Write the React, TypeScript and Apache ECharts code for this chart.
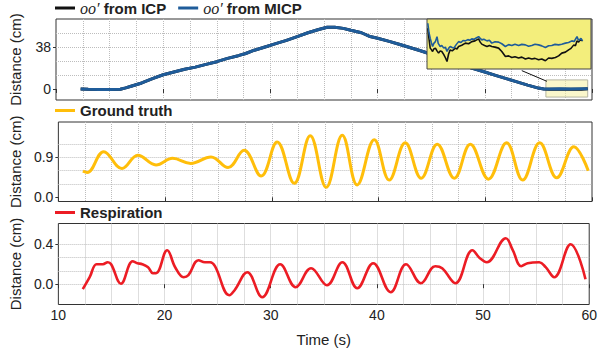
import React, { useEffect, useRef } from 'react';
import * as echarts from 'echarts';

// ---------- data ----------
const trackTime = [12.3, 13, 14, 15, 16, 16.5, 17, 18, 19, 20, 21, 22, 23, 24, 25, 26, 27, 27.7, 28.5, 29.5, 30.5, 31.5, 32.5, 33.5, 34.5, 35.3, 36, 36.8, 37.5, 38.5, 39.3, 40, 41, 42, 43, 44, 45, 46, 47, 48, 49, 50, 51, 52, 53, 54, 55, 55.5, 56, 57, 58, 59, 59.6];
const icpMain = [0, -0.3, -0.5, -0.5, -0.3, 1.0, 2.5, 5.5, 9.5, 13.0, 15.5, 18, 20, 22.5, 25, 28, 30.5, 32.5, 35.5, 38.5, 41.5, 44.5, 48, 51.5, 54.5, 56.5, 56.6, 55.5, 53.8, 51.5, 48, 46.5, 43.8, 41, 38, 35, 31.8, 28.5, 25, 21.5, 18.5, 15.5, 12.5, 9.5, 6.5, 3.5, 0.8, 0, -0.2, -0.3, -0.3, -0.2, 0.1];
const micpMain = [0, -0.3, -0.5, -0.5, -0.3, 1.0, 2.5, 5.5, 9.5, 13.0, 15.5, 18, 20, 22.5, 25, 28, 30.5, 32.5, 35.5, 38.5, 41.5, 44.5, 48, 51.5, 54.5, 56.5, 56.6, 55.5, 53.8, 51.5, 48, 46.5, 43.8, 41, 38, 35, 31.8, 28.5, 25, 21.5, 18.5, 15.5, 12.5, 9.5, 6.5, 3.5, 0.8, 0, -0.1, 0.1, -0.1, 0.1, 0.2];

// zoomed inset (t in s, distance in cm)
const insetMicpT = [55.72, 55.75, 55.78, 55.81, 55.84, 55.87, 55.91, 55.95, 55.98, 56.03, 56.07, 56.12, 56.16, 56.2, 56.24, 56.28, 56.33, 56.37, 56.43, 56.49, 56.55, 56.6, 56.66, 56.72, 56.77, 56.82, 56.88, 56.93, 56.99, 57.03, 57.07, 57.12, 57.2, 57.26, 57.32, 57.4, 57.49, 57.57, 57.66, 57.74, 57.82, 57.9, 57.99, 58.07, 58.16, 58.24, 58.32, 58.4, 58.49, 58.57, 58.66, 58.74, 58.82, 58.9, 58.99, 59.07, 59.16, 59.24, 59.32, 59.38, 59.45, 59.48, 59.51, 59.55, 59.59];
const insetMicpV = [1.66, 0.9, 0.46, 0.1, -0.2, 0.05, 0.19, 0.59, 0.05, -0.2, -0.12, -0.33, -0.25, -0.6, -0.35, -0.2, -0.28, -0.33, -0.05, 0.19, 0.12, 0.28, 0.25, 0.35, 0.3, 0.41, 0.38, 0.48, 0.59, 0.45, 0.33, 0.38, 0.25, 0.3, 0.07, 0.18, 0.15, 0.02, -0.2, -0.05, -0.12, -0.02, -0.12, -0.03, -0.07, -0.18, -0.12, -0.02, -0.07, -0.15, -0.28, -0.14, -0.12, -0.03, -0.07, -0.02, 0.07, 0.12, 0.25, 0.2, 0.59, 0.35, 0.33, 0.45, 0.25];
const insetIcpT = [55.72, 55.75, 55.78, 55.81, 55.84, 55.87, 55.91, 55.95, 55.99, 56.03, 56.07, 56.12, 56.16, 56.2, 56.24, 56.28, 56.33, 56.41, 56.45, 56.49, 56.57, 56.66, 56.74, 56.82, 56.9, 56.99, 57.03, 57.07, 57.14, 57.2, 57.26, 57.32, 57.4, 57.49, 57.57, 57.66, 57.74, 57.82, 57.9, 57.99, 58.07, 58.16, 58.24, 58.32, 58.4, 58.49, 58.57, 58.66, 58.74, 58.82, 58.91, 58.99, 59.07, 59.16, 59.24, 59.3, 59.37, 59.41, 59.45, 59.49, 59.53, 59.59];
const insetIcpV = [1.26, 0.4, -0.33, -0.45, -0.6, -0.4, -0.33, -0.55, -0.73, -0.55, -0.6, -0.85, -1.1, -1.4, -0.8, -0.47, -0.55, -0.33, -0.4, -0.2, -0.1, 0.07, 0.02, 0.19, 0.25, 0.41, 0.15, -0.01, -0.12, -0.2, -0.12, -0.2, -0.25, -0.33, -0.6, -1.0, -0.95, -1.08, -1.02, -1.12, -1.05, -1.2, -1.12, -1.2, -1.15, -1.26, -1.2, -1.34, -1.12, -1.15, -1.08, -0.95, -0.73, -0.65, -0.47, -0.35, -0.07, -0.15, 0.25, 0.15, 0.33, 0.25];

const truthT = [12.3, 12.7, 14.25, 15.95, 17.45, 19.15, 20.7, 22.4, 24.3, 25.9, 27.4, 29.0, 30.5, 32.1, 33.6, 35.1, 36.6, 38.0, 39.6, 41.0, 42.5, 44.0, 45.5, 47.1, 48.6, 50.3, 52.0, 53.5, 55.1, 56.7, 58.3, 59.65];
const truthV = [0.59, 0.56, 1.03, 0.65, 0.95, 0.73, 0.88, 0.765, 0.91, 0.67, 1.06, 0.48, 1.25, 0.315, 1.39, 0.225, 1.4, 0.28, 1.3, 0.39, 1.23, 0.43, 1.2, 0.43, 1.2, 0.41, 1.23, 0.39, 1.23, 0.44, 1.14, 0.6];

const respT = [12.3, 12.95, 13.6, 14.2, 14.65, 14.97, 15.9, 17.0, 17.45, 17.9, 18.45, 18.9, 19.2, 20.25, 21.0, 21.8, 22.25, 23.2, 23.8, 24.3, 24.75, 26.1, 26.6, 27.8, 29.2, 30.9, 32.35, 33.8, 35.3, 36.75, 38.15, 39.65, 41.3, 42.75, 44.15, 45.5, 46.15, 47.4, 49.0, 49.7, 50.35, 52.15, 52.8, 53.6, 54.2, 55.3, 55.9, 56.7, 58.25, 59.65];
const respV = [-0.05, 0.07, 0.2, 0.2, 0.22, 0.2, 0.005, 0.23, 0.21, 0.2, 0.17, 0.11, 0.11, 0.34, 0.17, 0.07, 0.09, 0.24, 0.22, 0.22, 0.18, -0.11, -0.06, 0.12, -0.13, 0.2, -0.03, 0.16, -0.01, 0.22, -0.04, 0.21, -0.08, 0.2, 0.01, 0.18, 0.16, 0.01, 0.34, 0.26, 0.22, 0.46, 0.34, 0.18, 0.21, 0.22, 0.17, 0.07, 0.4, 0.05];

// axis ticks
const timeLabels = [10, 20, 30, 40, 50, 60];
const distTicksTop = [0, 38];
const distGridTop = [0, 12.667, 25.333, 38, 50.667, 63.333];
const distTicksMid = [0, 0.9];
const distGridMid = [0, 0.3, 0.6, 0.9, 1.2, 1.5];
const distTicksBot = [0, 0.4];
const distGridBot = [-0.1333, 0, 0.1333, 0.2667, 0.4, 0.5333];
const zoomT = [55.7, 59.6];
const zoomV = [-7.4, 8.3];
const arrowFrom = [55.8, 7.0];
const arrowTo = [53.45, 16.8];

const pairs = (xs: number[], ys: number[]) => xs.map((x, i) => [x, ys[i]]);

const FONT = 'Liberation Sans, Arial, Helvetica, sans-serif';
const TXT = '#222';
const BLUE = '#1f5c9a';
const GOLD = '#ffbe0a';
const RED = '#ec1c24';

export default function App() {
  const ref = useRef<HTMLDivElement>(null);
  useEffect(() => {
    if (!ref.current) return;
    const chart = echarts.init(ref.current, null, { renderer: 'svg' });

    const frame = { show: true, borderColor: '#333', borderWidth: 1, backgroundColor: 'transparent' };
    const grids: any[] = [
      { left: 55, right: 8, top: 19, height: 81, ...frame },
      { left: 55, right: 8, top: 122, height: 79.5, ...frame },
      { left: 55, right: 8, top: 223.5, height: 81, ...frame },
      { left: 427, top: 19, width: 164, height: 50, show: true, backgroundColor: '#f3ee7c', borderColor: '#444', borderWidth: 1, z: 5 },
    ];

    const xAxes: any[] = [];
    const yAxes: any[] = [];
    const panels = [
      { min: -10.1, max: 64.1, ticks: distTicksTop, grid: distGridTop, dec: 0 },
      { min: -0.095, max: 1.7, ticks: distTicksMid, grid: distGridMid, dec: 1 },
      { min: -0.203, max: 0.607, ticks: distTicksBot, grid: distGridBot, dec: 1 },
    ];
    panels.forEach((p, g) => {
      const last = g === 2;
      xAxes.push({
        type: 'value', gridIndex: g, min: 10, max: 60,
        axisLine: { show: false },
        axisTick: { show: true, customValues: timeLabels, length: 4, lineStyle: { color: '#333' } },
        axisLabel: { show: last, customValues: timeLabels, margin: 3, color: TXT, fontSize: 14, fontFamily: FONT },
        splitLine: { show: false },
        name: last ? 'Time (s)' : '', nameLocation: 'middle', nameGap: 27,
        nameTextStyle: { fontSize: 15, color: TXT, fontFamily: FONT },
      });
      xAxes.push({
        type: 'value', gridIndex: g, min: 10, max: 60, interval: 2.5,
        axisLine: { show: false }, axisTick: { show: false }, axisLabel: { show: false },
        splitLine: { show: true, showMinLine: false, showMaxLine: false, lineStyle: { type: 'dotted', color: '#bdbdbd', width: 1 } },
      });
      yAxes.push({
        type: 'value', gridIndex: g, min: p.min, max: p.max,
        axisLine: { show: false },
        axisTick: { show: true, customValues: p.ticks, length: 3, lineStyle: { color: '#333' } },
        axisLabel: { show: true, customValues: p.ticks, margin: 5, color: TXT, fontSize: 14, fontFamily: FONT,
          formatter: (v: number) => v.toFixed(p.dec) },
        splitLine: { show: false },
        name: 'Distance (cm)', nameLocation: 'middle', nameGap: 33,
        nameTextStyle: { fontSize: 15, color: TXT, fontFamily: FONT },
      });
      yAxes.push({
        type: 'value', gridIndex: g, min: p.min, max: p.max,
        axisLine: { show: false },
        axisTick: { show: false, customValues: p.grid },
        axisLabel: { show: false, customValues: p.grid },
        splitLine: { show: true, showMinLine: false, showMaxLine: false, lineStyle: { type: 'dotted', color: '#bdbdbd', width: 1 } },
      });
    });
    // inset axes
    xAxes.push({ type: 'value', gridIndex: 3, min: 55.7, max: 59.8, show: false, z: 5 });
    yAxes.push({ type: 'value', gridIndex: 3, min: -2, max: 2, show: false, z: 5 });

    const legendBase = {
      left: 55, padding: 0, icon: 'rect', itemWidth: 20, itemHeight: 3, itemGap: 12,
      selectedMode: false,
      textStyle: { fontSize: 15, fontWeight: 'bold', color: TXT, fontFamily: FONT,
        rich: {
          m: { fontSize: 16, fontStyle: 'italic', fontWeight: 'normal', fontFamily: 'Liberation Serif, DejaVu Serif, serif', color: TXT },
          b: { fontSize: 15, fontWeight: 'bold', fontFamily: FONT, color: TXT },
        } },
    };

    const option: any = {
      animation: false,
      grid: grids,
      xAxis: xAxes,
      yAxis: yAxes,
      legend: [
        { ...legendBase, top: 0, data: ['oo′ from ICP', 'oo′ from MICP'],
          formatter: (n: string) => `{m|oo′} {b|${n.replace('oo′ ', '')}}` },
        { ...legendBase, top: 103, data: ['Ground truth'] },
        { ...legendBase, top: 205, data: ['Respiration'] },
      ],
      series: [
        { name: 'oo′ from ICP', type: 'line', xAxisIndex: 0, yAxisIndex: 0, data: pairs(trackTime, icpMain),
          showSymbol: false, symbol: 'none', color: '#111', lineStyle: { width: 3, color: '#111' } },
        { name: 'oo′ from MICP', type: 'line', xAxisIndex: 0, yAxisIndex: 0, data: pairs(trackTime, micpMain),
          showSymbol: false, symbol: 'none', color: BLUE, lineStyle: { width: 3, color: BLUE },
          markArea: { silent: true, itemStyle: { color: 'rgba(246,240,160,0.55)', borderColor: '#b5b5a0', borderWidth: 1 },
            data: [[{ coord: [zoomT[0], zoomV[1]] }, { coord: [zoomT[1], zoomV[0]] }]] },
          markLine: { silent: true, symbol: ['none', 'arrow'], symbolSize: [0, 7], label: { show: false },
            lineStyle: { color: '#111', width: 1, type: 'solid' },
            data: [[{ coord: arrowFrom }, { coord: arrowTo }]] } },
        { name: 'Ground truth', type: 'line', xAxisIndex: 2, yAxisIndex: 2, data: pairs(truthT, truthV),
          smooth: 0.4, showSymbol: false, symbol: 'none', color: GOLD, lineStyle: { width: 3, color: GOLD } },
        { name: 'Respiration', type: 'line', xAxisIndex: 4, yAxisIndex: 4, data: pairs(respT, respV),
          smooth: 0.4, showSymbol: false, symbol: 'none', color: RED, lineStyle: { width: 2.6, color: RED } },
        { name: 'inset ICP', type: 'line', xAxisIndex: 6, yAxisIndex: 6, data: pairs(insetIcpT, insetIcpV), z: 6,
          showSymbol: false, symbol: 'none', color: '#111', lineStyle: { width: 1.6, color: '#111' } },
        { name: 'inset MICP', type: 'line', xAxisIndex: 6, yAxisIndex: 6, data: pairs(insetMicpT, insetMicpV), z: 7,
          showSymbol: false, symbol: 'none', color: BLUE, lineStyle: { width: 1.6, color: BLUE } },
      ],
    };
    chart.setOption(option);
    return () => chart.dispose();
  }, []);
  return <div ref={ref} style={{ position: 'fixed', left: 0, top: 0, width: 600, height: 354, background: '#fff' }} />;
}
